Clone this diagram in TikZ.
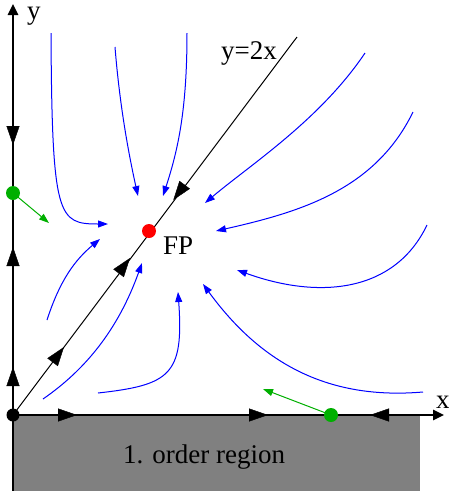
\documentclass[tikz,border=0pt]{standalone}
\usepackage{fontspec}
\setmainfont{Liberation Serif}
\usetikzlibrary{arrows.meta}
\definecolor{fpgreen}{RGB}{0,175,0}
\begin{document}
\begin{tikzpicture}[x=1pt,y=-1pt,
  axisline/.style={line width=2.5pt, -{Triangle[length=11pt,width=10pt]}},
  bigtip/.style={-{Triangle[length=19pt,width=13pt]}},
  flow/.style={blue, line width=1pt, -{Triangle[length=10pt,width=7pt]}},
  gflow/.style={fpgreen, line width=1pt, -{Triangle[length=10pt,width=7pt]}},
  lbl/.style={font=\fontsize{27}{32}\selectfont, inner sep=0pt, anchor=base west},
  dot/.style={circle, inner sep=0pt, minimum size=#1},
]
\useasboundingbox (0,0) rectangle (449,491);
% first order region
\fill[gray] (13,415) rectangle (420,491);
\node[lbl] (reg) at (123,463) {1. order region};
% axes
\coordinate (O) at (13,415);
\coordinate (ybot) at (13,491);
\coordinate (ytop) at (13,4);
\coordinate (xtip) at (444,415);
\draw[axisline] (ybot) -- (ytop);
\draw[axisline] (O) -- (xtip);
\node[lbl, text height=12pt] (ylab) at (27,19) {y};
\node[lbl] (xlab) at (436,408) {x};
% diagonal y=2x
\coordinate (dtop) at (297,37);
\draw[line width=1pt] (O) -- (dtop);
\node[lbl] (dlab) at (221,59) {y=2x};
% arrowheads on axes
\draw[bigtip] (13,126) -- (13,145);
\draw[bigtip] (13,266) -- (13,247);
\draw[bigtip] (13,386) -- (13,367);
\draw[bigtip] (58,415) -- (77,415);
\draw[bigtip] (249,415) -- (268,415);
\draw[bigtip] (389,415) -- (370,415);
% arrowheads on diagonal
\draw[bigtip] (184.7,184.8) -- (173.3,200);
\draw[bigtip] (52.6,362.2) -- (64,347);
\draw[bigtip] (118.6,273.2) -- (130,258);
% blue trajectories
\draw[flow] (51,33) .. controls (52,218) and (58,224) .. (108,224);
\draw[flow] (115,47) .. controls (120,110) and (130,160) .. (138,196);
\draw[flow] (187,33) .. controls (187,110) and (178,150) .. (163,196);
\draw[flow] (365,53) .. controls (320,120) and (250,165) .. (205,203);
\draw[flow] (413,112) .. controls (375,190) and (300,212) .. (216,231);
\draw[flow] (427,225) .. controls (395,292) and (320,300) .. (237,270);
\draw[flow] (423,392) .. controls (330,400) and (262,365) .. (203,284);
\draw[flow] (98,393) .. controls (170,385) and (184,375) .. (178,292);
\draw[flow] (43,399) .. controls (85,370) and (118,330) .. (142,263);
\draw[flow] (47,320) .. controls (60,280) and (75,260) .. (100,239);
% fixed points
\node[dot=13pt, fill=black] (orig) at (O) {};
\node[dot=14pt, fill=red] (FP) at (149,231) {};
\node[lbl] (fplab) at (163,254) {FP};
\node[dot=14pt, fill=fpgreen] (gy) at (13,193) {};
\node[dot=14pt, fill=fpgreen] (gx) at (331,415) {};
\coordinate (gyend) at (49,223);
\coordinate (gxend) at (263,389);
\draw[gflow] (gy.center) -- (gyend);
\draw[gflow] (gx.center) -- (gxend);
\end{tikzpicture}
\end{document}
